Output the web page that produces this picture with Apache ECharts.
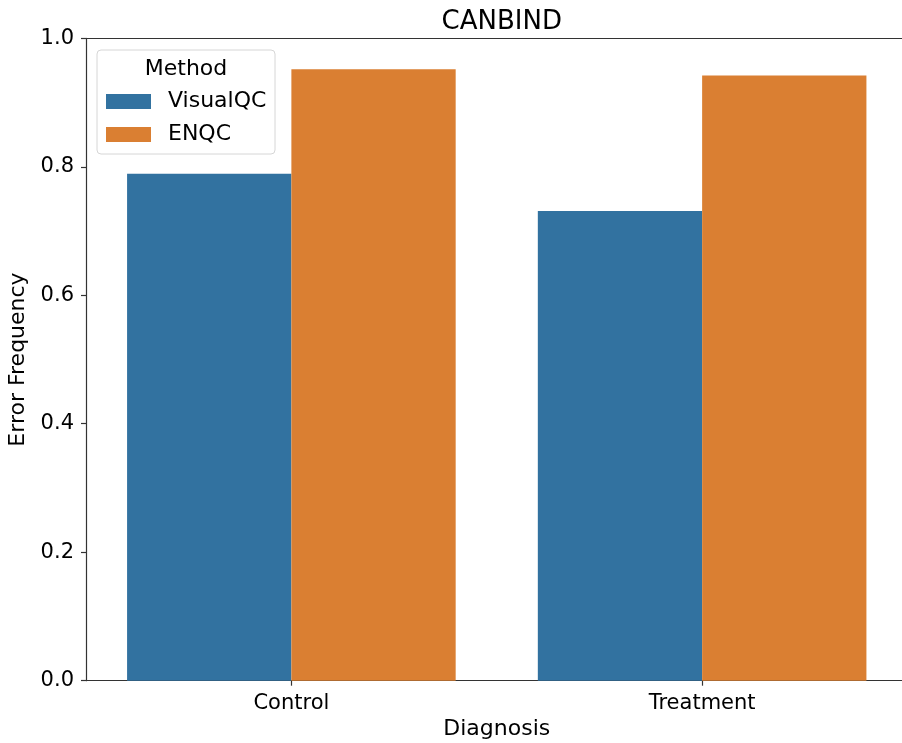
<!DOCTYPE html>
<html>
<head>
<meta charset="utf-8">
<script src="https://cdn.jsdelivr.net/npm/echarts@6/dist/echarts.min.js"></script>
<style>
  html, body { margin: 0; padding: 0; background: #fff; overflow: hidden; }
  /* the axes run slightly past the right edge of the window */
  #chart { width: 908px; height: 743px; }
</style>
</head>
<body>
<div id="chart"></div>
<script>
// Error frequency per diagnosis group, by QC method
const categories = ['Control', 'Treatment'];
const methods = ['VisualQC', 'ENQC'];
const visualQC = [0.789, 0.731];
const enqc = [0.952, 0.942];
const yTicks = [0, 0.2, 0.4, 0.6, 0.8, 1.0];
const colors = ['#3272a0', '#da7f32'];

const FONT = 'DejaVu Sans';
const gridLeft = 86, gridTop = 38.3, gridWidth = 821.5, gridHeight = 642.4;

const chart = echarts.init(document.getElementById('chart'), null, { renderer: 'canvas' });

chart.setOption({
  animation: false,
  backgroundColor: '#ffffff',
  textStyle: { fontFamily: FONT },
  title: {
    text: 'CANBIND',
    left: gridLeft + gridWidth / 2,
    textAlign: 'center',
    top: 4,
    textStyle: { fontFamily: FONT, fontSize: 26, fontWeight: 'normal', color: '#000' }
  },
  grid: {
    left: gridLeft, top: gridTop, width: gridWidth, height: gridHeight,
    containLabel: false,
    outerBoundsMode: 'none'
  },
  legend: {
    data: methods,
    orient: 'vertical',
    left: 106,
    top: 90.5,
    itemWidth: 45,
    itemHeight: 15,
    itemGap: 11,
    padding: 0,
    icon: 'rect',
    textStyle: { fontFamily: FONT, fontSize: 22, color: '#000', lineHeight: 22, padding: [0, 0, 0, 12] }
  },
  graphic: [
    {
      type: 'rect',
      z: 0,
      shape: { x: 97, y: 50, width: 178, height: 104, r: 4 },
      style: { fill: 'rgba(255,255,255,0.8)', stroke: '#d6d6d6', lineWidth: 1 }
    },
    {
      type: 'text',
      z: 1,
      style: {
        x: 186, y: 69, text: 'Method', align: 'center', verticalAlign: 'middle',
        font: '22px "DejaVu Sans"', fill: '#000'
      }
    }
  ],
  xAxis: [
    {
      type: 'category',
      data: categories,
      name: 'Diagnosis',
      nameLocation: 'middle',
      nameGap: 38,
      nameTextStyle: { fontFamily: FONT, fontSize: 22, color: '#000' },
      axisLine: { show: true, lineStyle: { color: '#333', width: 1.2 } },
      axisTick: { show: true, alignWithLabel: true, length: 5, lineStyle: { color: '#333', width: 1.2 } },
      axisLabel: { fontFamily: FONT, fontSize: 21, color: '#000', margin: 12 },
      splitLine: { show: false }
    },
    {
      type: 'category',
      data: categories,
      position: 'top',
      axisLine: { show: true, lineStyle: { color: '#333', width: 1.2 } },
      axisTick: { show: false },
      axisLabel: { show: false },
      splitLine: { show: false }
    }
  ],
  yAxis: {
    type: 'value',
    min: yTicks[0],
    max: yTicks[yTicks.length - 1],
    interval: 0.2,
    name: 'Error Frequency',
    nameLocation: 'middle',
    nameGap: 49,
    nameTextStyle: { fontFamily: FONT, fontSize: 22, color: '#000' },
    axisLine: { show: true, lineStyle: { color: '#333', width: 1.2 } },
    axisTick: { show: true, length: 5, lineStyle: { color: '#333', width: 1.2 } },
    axisLabel: { fontFamily: FONT, fontSize: 21, color: '#000', margin: 12, formatter: v => v.toFixed(1) },
    splitLine: { show: false }
  },
  series: [
    {
      name: methods[0],
      type: 'bar',
      data: visualQC,
      itemStyle: { color: colors[0] },
      barGap: '0%',
      barCategoryGap: '20%'
    },
    {
      name: methods[1],
      type: 'bar',
      data: enqc,
      itemStyle: { color: colors[1] },
      barGap: '0%',
      barCategoryGap: '20%'
    }
  ]
});
</script>
</body>
</html>
